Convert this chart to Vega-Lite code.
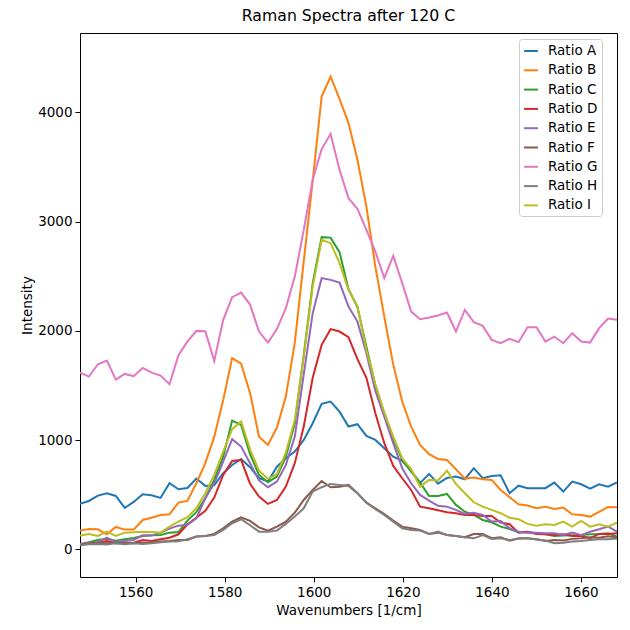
{
  "$schema": "https://vega.github.io/schema/vega-lite/v6.json",
  "autosize": "none",
  "padding": {"left": 80, "top": 33, "right": 13, "bottom": 53},
  "width": 537,
  "height": 544,
  "background": "white",
  "title": {
    "text": "Raman Spectra after 120 C",
    "font": "DejaVu Sans",
    "fontSize": 15.7,
    "fontWeight": "normal",
    "color": "black",
    "anchor": "middle",
    "offset": 8
  },
  "view": {"stroke": "black", "strokeWidth": 1},
  "data": {
    "values": [
      {"w": 1547.5, "Ratio A": 415, "Ratio B": 171, "Ratio C": 46, "Ratio D": 46, "Ratio E": 46, "Ratio F": 39, "Ratio G": 1617, "Ratio H": 37, "Ratio I": 125},
      {"w": 1549.51, "Ratio A": 442, "Ratio B": 186, "Ratio C": 64, "Ratio D": 55, "Ratio E": 60, "Ratio F": 55, "Ratio G": 1581, "Ratio H": 46, "Ratio I": 140},
      {"w": 1551.52, "Ratio A": 491, "Ratio B": 183, "Ratio C": 85, "Ratio D": 60, "Ratio E": 64, "Ratio F": 60, "Ratio G": 1694, "Ratio H": 49, "Ratio I": 122},
      {"w": 1553.53, "Ratio A": 513, "Ratio B": 137, "Ratio C": 97, "Ratio D": 76, "Ratio E": 106, "Ratio F": 55, "Ratio G": 1727, "Ratio H": 43, "Ratio I": 161},
      {"w": 1555.54, "Ratio A": 488, "Ratio B": 204, "Ratio C": 79, "Ratio D": 55, "Ratio E": 64, "Ratio F": 60, "Ratio G": 1553, "Ratio H": 55, "Ratio I": 122},
      {"w": 1557.55, "Ratio A": 378, "Ratio B": 180, "Ratio C": 92, "Ratio D": 55, "Ratio E": 76, "Ratio F": 55, "Ratio G": 1605, "Ratio H": 46, "Ratio I": 152},
      {"w": 1559.56, "Ratio A": 433, "Ratio B": 180, "Ratio C": 103, "Ratio D": 60, "Ratio E": 85, "Ratio F": 55, "Ratio G": 1584, "Ratio H": 55, "Ratio I": 156},
      {"w": 1561.57, "Ratio A": 504, "Ratio B": 268, "Ratio C": 122, "Ratio D": 85, "Ratio E": 128, "Ratio F": 60, "Ratio G": 1660, "Ratio H": 49, "Ratio I": 161},
      {"w": 1563.58, "Ratio A": 494, "Ratio B": 289, "Ratio C": 128, "Ratio D": 76, "Ratio E": 125, "Ratio F": 64, "Ratio G": 1617, "Ratio H": 55, "Ratio I": 158},
      {"w": 1565.59, "Ratio A": 470, "Ratio B": 314, "Ratio C": 131, "Ratio D": 92, "Ratio E": 152, "Ratio F": 70, "Ratio G": 1590, "Ratio H": 64, "Ratio I": 152},
      {"w": 1567.6, "Ratio A": 604, "Ratio B": 320, "Ratio C": 152, "Ratio D": 106, "Ratio E": 189, "Ratio F": 76, "Ratio G": 1511, "Ratio H": 70, "Ratio I": 207},
      {"w": 1569.61, "Ratio A": 549, "Ratio B": 427, "Ratio C": 158, "Ratio D": 137, "Ratio E": 216, "Ratio F": 85, "Ratio G": 1776, "Ratio H": 73, "Ratio I": 253},
      {"w": 1571.62, "Ratio A": 561, "Ratio B": 442, "Ratio C": 262, "Ratio D": 229, "Ratio E": 223, "Ratio F": 85, "Ratio G": 1901, "Ratio H": 92, "Ratio I": 293},
      {"w": 1573.63, "Ratio A": 647, "Ratio B": 604, "Ratio C": 339, "Ratio D": 289, "Ratio E": 284, "Ratio F": 116, "Ratio G": 1999, "Ratio H": 116, "Ratio I": 375},
      {"w": 1575.64, "Ratio A": 580, "Ratio B": 788, "Ratio C": 467, "Ratio D": 351, "Ratio E": 467, "Ratio F": 122, "Ratio G": 1996, "Ratio H": 122, "Ratio I": 513},
      {"w": 1577.65, "Ratio A": 586, "Ratio B": 1031, "Ratio C": 635, "Ratio D": 473, "Ratio E": 604, "Ratio F": 140, "Ratio G": 1724, "Ratio H": 131, "Ratio I": 680},
      {"w": 1579.66, "Ratio A": 696, "Ratio B": 1367, "Ratio C": 848, "Ratio D": 680, "Ratio E": 802, "Ratio F": 192, "Ratio G": 2100, "Ratio H": 177, "Ratio I": 894},
      {"w": 1581.67, "Ratio A": 772, "Ratio B": 1750, "Ratio C": 1178, "Ratio D": 809, "Ratio E": 1007, "Ratio F": 253, "Ratio G": 2308, "Ratio H": 238, "Ratio I": 1099},
      {"w": 1583.68, "Ratio A": 827, "Ratio B": 1700, "Ratio C": 1138, "Ratio D": 818, "Ratio E": 940, "Ratio F": 293, "Ratio G": 2350, "Ratio H": 275, "Ratio I": 1169},
      {"w": 1585.69, "Ratio A": 751, "Ratio B": 1430, "Ratio C": 870, "Ratio D": 600, "Ratio E": 788, "Ratio F": 260, "Ratio G": 2240, "Ratio H": 220, "Ratio I": 915},
      {"w": 1587.7, "Ratio A": 650, "Ratio B": 1031, "Ratio C": 680, "Ratio D": 482, "Ratio E": 630, "Ratio F": 200, "Ratio G": 1993, "Ratio H": 161, "Ratio I": 720},
      {"w": 1589.71, "Ratio A": 620, "Ratio B": 955, "Ratio C": 614, "Ratio D": 415, "Ratio E": 568, "Ratio F": 171, "Ratio G": 1892, "Ratio H": 161, "Ratio I": 644},
      {"w": 1591.72, "Ratio A": 756, "Ratio B": 1114, "Ratio C": 665, "Ratio D": 451, "Ratio E": 619, "Ratio F": 207, "Ratio G": 2015, "Ratio H": 171, "Ratio I": 687},
      {"w": 1593.73, "Ratio A": 833, "Ratio B": 1398, "Ratio C": 848, "Ratio D": 573, "Ratio E": 772, "Ratio F": 253, "Ratio G": 2207, "Ratio H": 232, "Ratio I": 885},
      {"w": 1595.74, "Ratio A": 894, "Ratio B": 1892, "Ratio C": 1154, "Ratio D": 788, "Ratio E": 1031, "Ratio F": 335, "Ratio G": 2496, "Ratio H": 299, "Ratio I": 1184},
      {"w": 1597.75, "Ratio A": 1001, "Ratio B": 2637, "Ratio C": 1780, "Ratio D": 1123, "Ratio E": 1600, "Ratio F": 451, "Ratio G": 2924, "Ratio H": 375, "Ratio I": 1760},
      {"w": 1599.76, "Ratio A": 1154, "Ratio B": 3373, "Ratio C": 2436, "Ratio D": 1570, "Ratio E": 2161, "Ratio F": 543, "Ratio G": 3382, "Ratio H": 528, "Ratio I": 2405},
      {"w": 1601.77, "Ratio A": 1331, "Ratio B": 4145, "Ratio C": 2857, "Ratio D": 1871, "Ratio E": 2482, "Ratio F": 625, "Ratio G": 3663, "Ratio H": 568, "Ratio I": 2832},
      {"w": 1603.78, "Ratio A": 1352, "Ratio B": 4328, "Ratio C": 2853, "Ratio D": 2015, "Ratio E": 2466, "Ratio F": 568, "Ratio G": 3803, "Ratio H": 598, "Ratio I": 2802},
      {"w": 1605.79, "Ratio A": 1260, "Ratio B": 4120, "Ratio C": 2720, "Ratio D": 1993, "Ratio E": 2441, "Ratio F": 573, "Ratio G": 3473, "Ratio H": 589, "Ratio I": 2619},
      {"w": 1607.8, "Ratio A": 1123, "Ratio B": 3901, "Ratio C": 2381, "Ratio D": 1941, "Ratio E": 2222, "Ratio F": 589, "Ratio G": 3214, "Ratio H": 580, "Ratio I": 2375},
      {"w": 1609.81, "Ratio A": 1145, "Ratio B": 3565, "Ratio C": 2216, "Ratio D": 1740, "Ratio E": 2084, "Ratio F": 513, "Ratio G": 3116, "Ratio H": 513, "Ratio I": 2222},
      {"w": 1611.82, "Ratio A": 1038, "Ratio B": 3137, "Ratio C": 1855, "Ratio D": 1570, "Ratio E": 1795, "Ratio F": 427, "Ratio G": 2924, "Ratio H": 427, "Ratio I": 1825},
      {"w": 1613.83, "Ratio A": 1001, "Ratio B": 2588, "Ratio C": 1500, "Ratio D": 1245, "Ratio E": 1450, "Ratio F": 375, "Ratio G": 2725, "Ratio H": 366, "Ratio I": 1510},
      {"w": 1615.84, "Ratio A": 925, "Ratio B": 2130, "Ratio C": 1245, "Ratio D": 971, "Ratio E": 1214, "Ratio F": 323, "Ratio G": 2482, "Ratio H": 314, "Ratio I": 1250},
      {"w": 1617.85, "Ratio A": 848, "Ratio B": 1690, "Ratio C": 1016, "Ratio D": 763, "Ratio E": 971, "Ratio F": 262, "Ratio G": 2686, "Ratio H": 253, "Ratio I": 1031},
      {"w": 1619.86, "Ratio A": 809, "Ratio B": 1352, "Ratio C": 818, "Ratio D": 650, "Ratio E": 742, "Ratio F": 207, "Ratio G": 2436, "Ratio H": 192, "Ratio I": 833},
      {"w": 1621.87, "Ratio A": 720, "Ratio B": 1123, "Ratio C": 711, "Ratio D": 543, "Ratio E": 604, "Ratio F": 192, "Ratio G": 2176, "Ratio H": 177, "Ratio I": 733},
      {"w": 1623.88, "Ratio A": 604, "Ratio B": 955, "Ratio C": 610, "Ratio D": 390, "Ratio E": 497, "Ratio F": 177, "Ratio G": 2106, "Ratio H": 171, "Ratio I": 573},
      {"w": 1625.89, "Ratio A": 690, "Ratio B": 870, "Ratio C": 488, "Ratio D": 375, "Ratio E": 445, "Ratio F": 140, "Ratio G": 2121, "Ratio H": 140, "Ratio I": 635},
      {"w": 1627.9, "Ratio A": 600, "Ratio B": 827, "Ratio C": 488, "Ratio D": 357, "Ratio E": 398, "Ratio F": 152, "Ratio G": 2140, "Ratio H": 161, "Ratio I": 630},
      {"w": 1629.91, "Ratio A": 653, "Ratio B": 818, "Ratio C": 506, "Ratio D": 339, "Ratio E": 390, "Ratio F": 131, "Ratio G": 2167, "Ratio H": 131, "Ratio I": 720},
      {"w": 1631.92, "Ratio A": 665, "Ratio B": 733, "Ratio C": 406, "Ratio D": 330, "Ratio E": 360, "Ratio F": 122, "Ratio G": 1993, "Ratio H": 122, "Ratio I": 598},
      {"w": 1633.93, "Ratio A": 641, "Ratio B": 647, "Ratio C": 344, "Ratio D": 314, "Ratio E": 323, "Ratio F": 110, "Ratio G": 2191, "Ratio H": 110, "Ratio I": 513},
      {"w": 1635.94, "Ratio A": 742, "Ratio B": 656, "Ratio C": 314, "Ratio D": 314, "Ratio E": 335, "Ratio F": 140, "Ratio G": 2079, "Ratio H": 100, "Ratio I": 430},
      {"w": 1637.95, "Ratio A": 650, "Ratio B": 641, "Ratio C": 268, "Ratio D": 305, "Ratio E": 314, "Ratio F": 140, "Ratio G": 2045, "Ratio H": 130, "Ratio I": 390},
      {"w": 1639.96, "Ratio A": 671, "Ratio B": 635, "Ratio C": 247, "Ratio D": 305, "Ratio E": 253, "Ratio F": 101, "Ratio G": 1917, "Ratio H": 95, "Ratio I": 360},
      {"w": 1641.97, "Ratio A": 678, "Ratio B": 543, "Ratio C": 207, "Ratio D": 244, "Ratio E": 259, "Ratio F": 110, "Ratio G": 1886, "Ratio H": 100, "Ratio I": 330},
      {"w": 1643.98, "Ratio A": 513, "Ratio B": 476, "Ratio C": 186, "Ratio D": 229, "Ratio E": 192, "Ratio F": 79, "Ratio G": 1926, "Ratio H": 85, "Ratio I": 289},
      {"w": 1645.99, "Ratio A": 582, "Ratio B": 412, "Ratio C": 156, "Ratio D": 152, "Ratio E": 161, "Ratio F": 101, "Ratio G": 1896, "Ratio H": 95, "Ratio I": 275},
      {"w": 1648.0, "Ratio A": 559, "Ratio B": 400, "Ratio C": 158, "Ratio D": 161, "Ratio E": 152, "Ratio F": 101, "Ratio G": 2033, "Ratio H": 100, "Ratio I": 232},
      {"w": 1650.01, "Ratio A": 559, "Ratio B": 375, "Ratio C": 147, "Ratio D": 140, "Ratio E": 152, "Ratio F": 91, "Ratio G": 2033, "Ratio H": 90, "Ratio I": 216},
      {"w": 1652.02, "Ratio A": 559, "Ratio B": 390, "Ratio C": 137, "Ratio D": 137, "Ratio E": 147, "Ratio F": 76, "Ratio G": 1901, "Ratio H": 80, "Ratio I": 229},
      {"w": 1654.03, "Ratio A": 610, "Ratio B": 369, "Ratio C": 122, "Ratio D": 131, "Ratio E": 147, "Ratio F": 85, "Ratio G": 1947, "Ratio H": 55, "Ratio I": 223},
      {"w": 1656.04, "Ratio A": 528, "Ratio B": 381, "Ratio C": 125, "Ratio D": 137, "Ratio E": 131, "Ratio F": 80, "Ratio G": 1886, "Ratio H": 60, "Ratio I": 253},
      {"w": 1658.05, "Ratio A": 619, "Ratio B": 320, "Ratio C": 128, "Ratio D": 122, "Ratio E": 152, "Ratio F": 95, "Ratio G": 1978, "Ratio H": 70, "Ratio I": 207},
      {"w": 1660.06, "Ratio A": 595, "Ratio B": 314, "Ratio C": 131, "Ratio D": 122, "Ratio E": 128, "Ratio F": 100, "Ratio G": 1901, "Ratio H": 76, "Ratio I": 259},
      {"w": 1662.07, "Ratio A": 555, "Ratio B": 299, "Ratio C": 137, "Ratio D": 101, "Ratio E": 161, "Ratio F": 110, "Ratio G": 1892, "Ratio H": 85, "Ratio I": 207},
      {"w": 1664.08, "Ratio A": 595, "Ratio B": 342, "Ratio C": 140, "Ratio D": 140, "Ratio E": 183, "Ratio F": 105, "Ratio G": 2024, "Ratio H": 91, "Ratio I": 229},
      {"w": 1666.09, "Ratio A": 573, "Ratio B": 387, "Ratio C": 147, "Ratio D": 140, "Ratio E": 207, "Ratio F": 120, "Ratio G": 2112, "Ratio H": 91, "Ratio I": 207},
      {"w": 1668.1, "Ratio A": 613, "Ratio B": 385, "Ratio C": 115, "Ratio D": 147, "Ratio E": 161, "Ratio F": 110, "Ratio G": 2100, "Ratio H": 98, "Ratio I": 244}
    ]
  },
  "transform": [
    {"fold": ["Ratio A", "Ratio B", "Ratio C", "Ratio D", "Ratio E", "Ratio F", "Ratio G", "Ratio H", "Ratio I"], "as": ["series", "intensity"]}
  ],
  "mark": {"type": "line", "strokeWidth": 2, "clip": true},
  "encoding": {
    "x": {
      "field": "w",
      "type": "quantitative",
      "title": "Wavenumbers [1/cm]",
      "scale": {"domain": [1547.5, 1668.1], "nice": false, "zero": false},
      "axis": {"values": [1560, 1580, 1600, 1620, 1640, 1660], "format": "d", "grid": false}
    },
    "y": {
      "field": "intensity",
      "type": "quantitative",
      "title": "Intensity",
      "scale": {"domain": [-254, 4726], "nice": false, "zero": false},
      "axis": {"values": [0, 1000, 2000, 3000, 4000], "format": "d", "grid": false, "titlePadding": 3}
    },
    "color": {
      "field": "series",
      "type": "nominal",
      "scale": {
        "domain": ["Ratio A", "Ratio B", "Ratio C", "Ratio D", "Ratio E", "Ratio F", "Ratio G", "Ratio H", "Ratio I"],
        "range": ["#1f77b4", "#ff7f0e", "#2ca02c", "#d62728", "#9467bd", "#8c564b", "#e377c2", "#7f7f7f", "#bcbd22"]
      },
      "legend": {
        "title": null,
        "orient": "none",
        "legendX": 439,
        "legendY": 6,
        "symbolType": "M-1,0L1,0",
        "symbolSize": 190,
        "symbolStrokeWidth": 2,
        "rowPadding": 4.3,
        "labelFont": "DejaVu Sans",
        "labelFontSize": 13.5,
        "labelColor": "black",
        "labelOffset": 9,
        "padding": 4,
        "fillColor": "white",
        "strokeColor": "#cccccc",
        "cornerRadius": 3
      }
    }
  },
  "config": {
    "axis": {
      "labelFont": "DejaVu Sans",
      "labelFontSize": 13.5,
      "labelColor": "black",
      "titleFont": "DejaVu Sans",
      "titleFontSize": 13.5,
      "titleFontWeight": "normal",
      "titleColor": "black",
      "tickColor": "black",
      "tickSize": 5,
      "domain": false,
      "labelPadding": 3
    },
    "axisX": {"titlePadding": 5}
  }
}
